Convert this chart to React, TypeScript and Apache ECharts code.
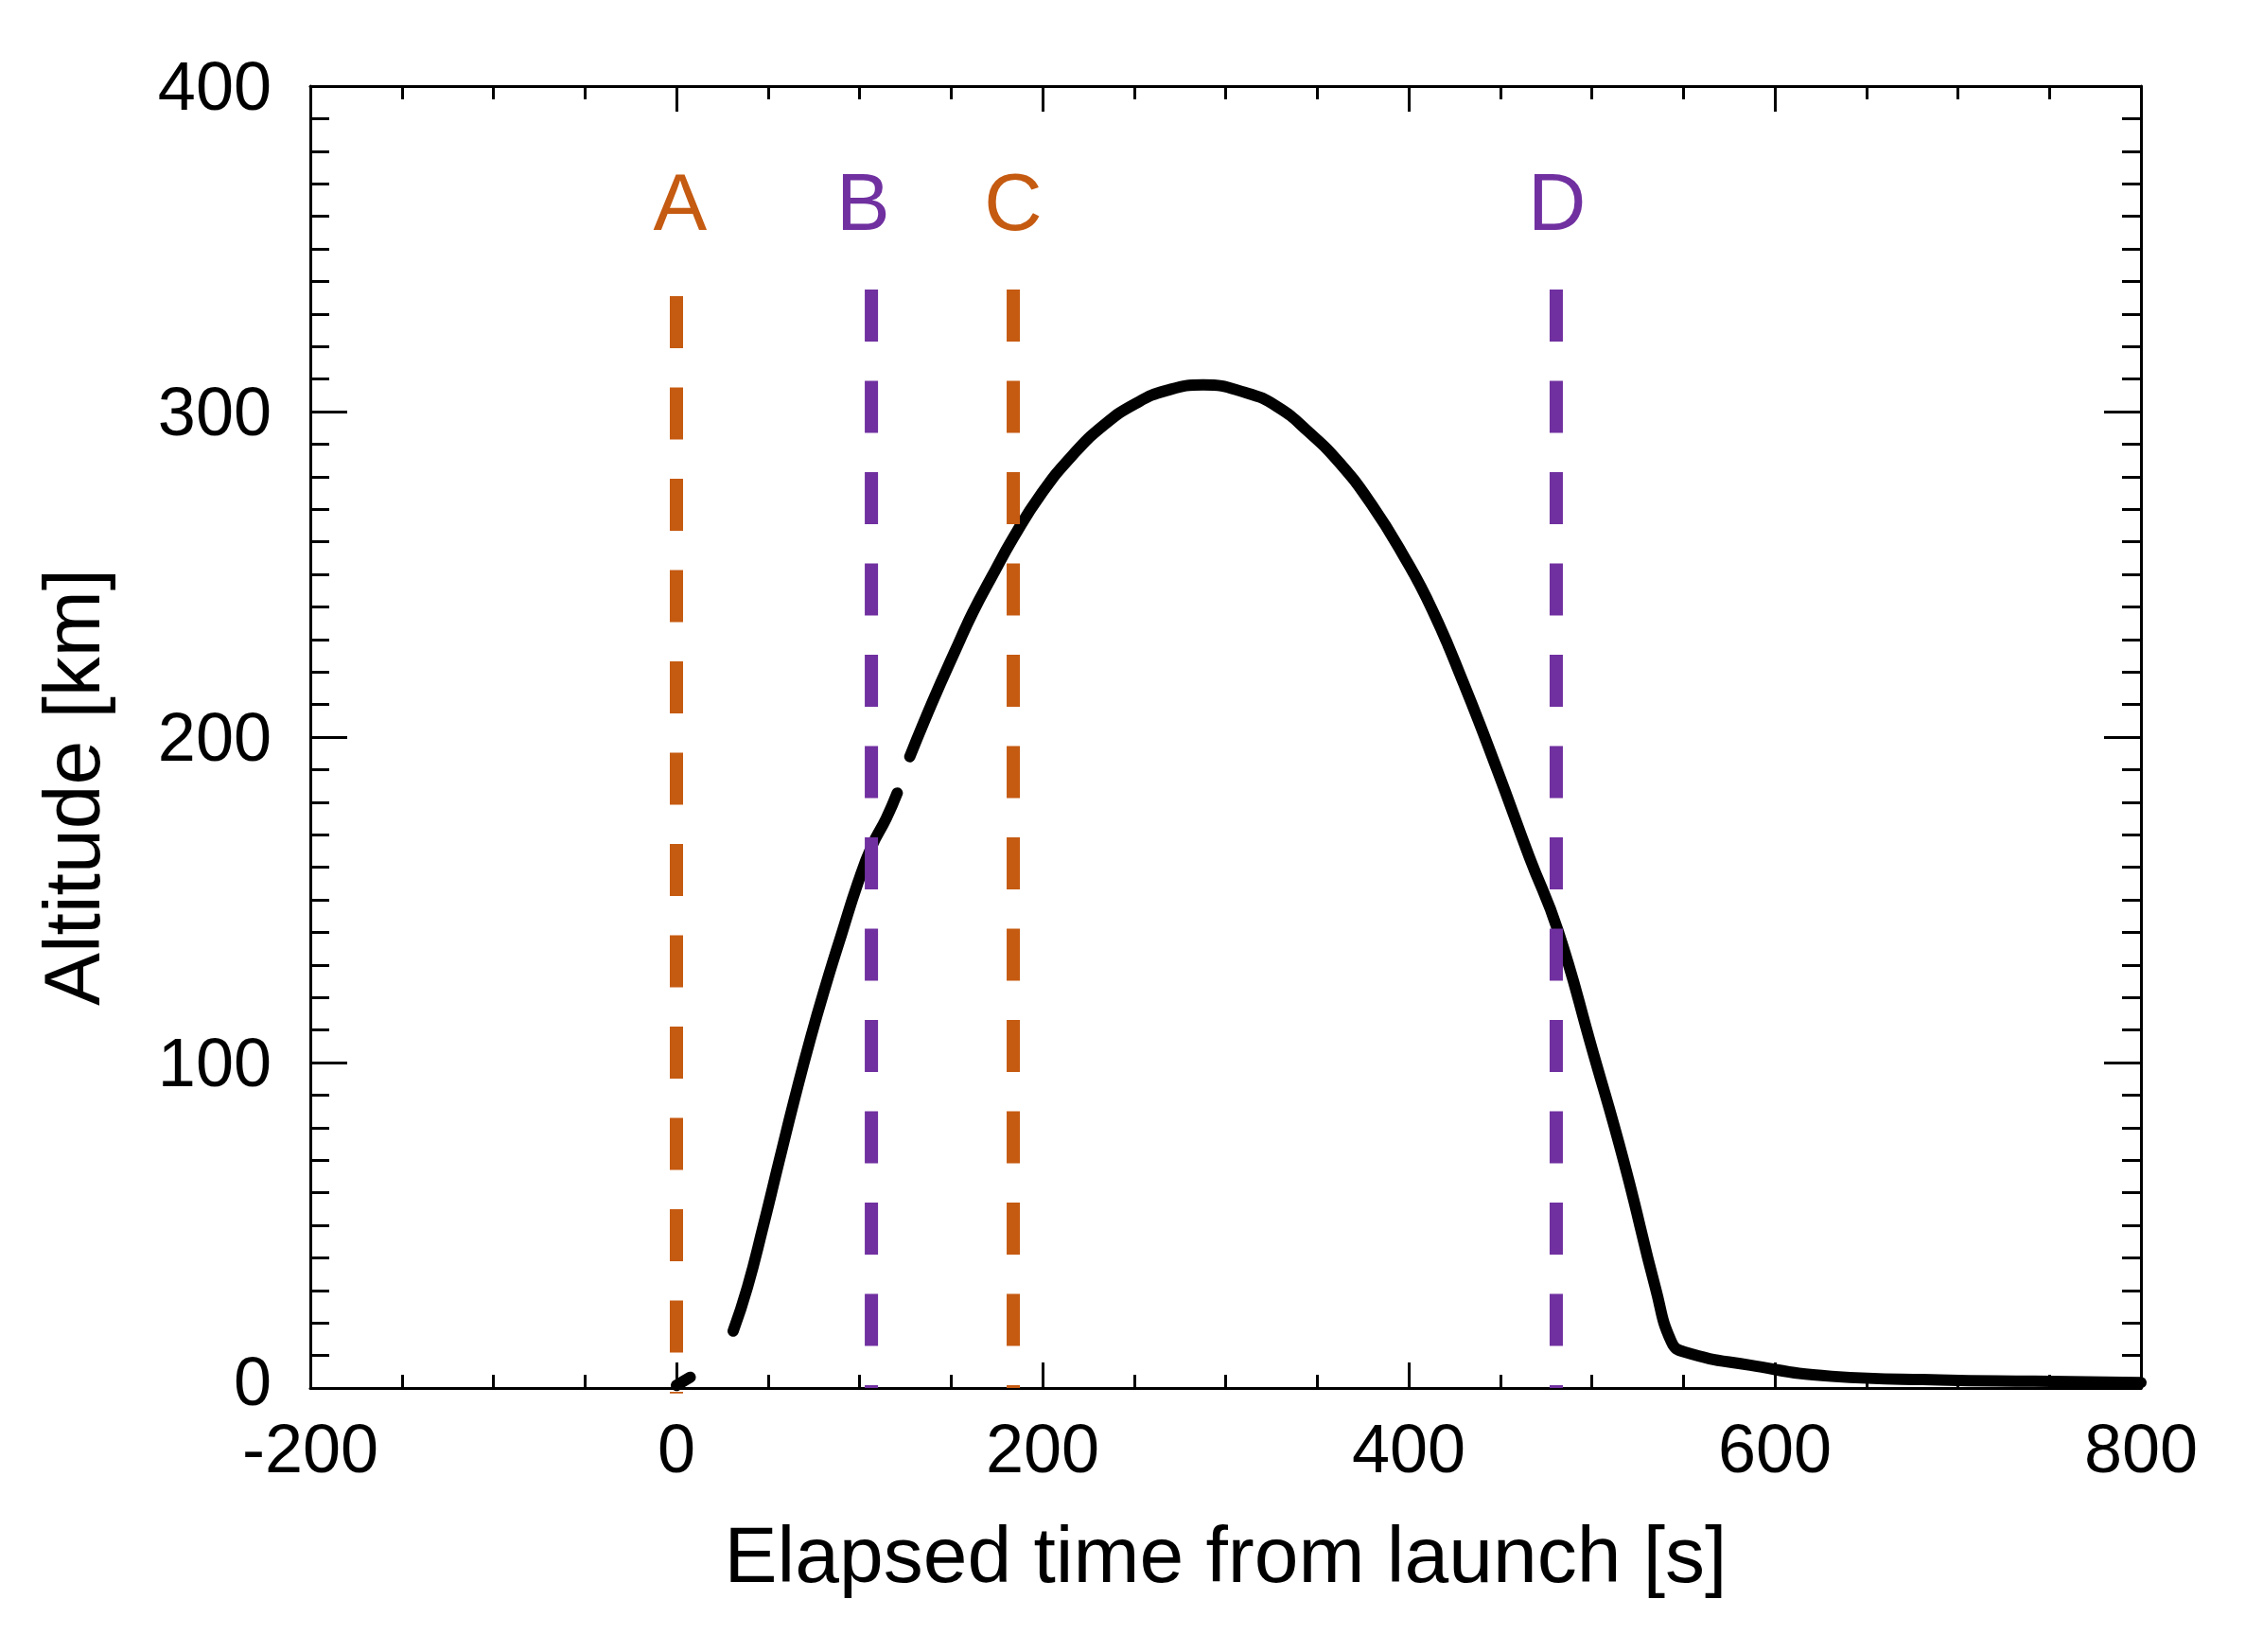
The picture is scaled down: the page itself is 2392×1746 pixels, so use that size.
import React, { useEffect, useRef } from "react";
import * as echarts from "echarts";

// ---- data ----
const launchT = [0, 3, 7.5];
const launchAlt = [0.8, 1.8, 3.3];

const ascentT = [31, 38.8, 47.4, 56, 64.6, 73.2, 81.7, 90.4, 99, 106.8, 114.6, 120.6];
const ascentAlt = [17.5, 31, 49.7, 69.5, 89, 107.4, 124, 139.8, 155, 166.6, 175, 182.8];

const flightT = [127.5, 140, 152.5, 161.9, 172, 184.3, 199, 216.2, 233.4, 250.6, 267.9, 287.7, 311, 328.2, 345.4, 362.6, 379.8, 397, 412.6, 430, 448.6, 466, 481.5, 500.3, 517.7, 534.9, 543.5, 550.4, 586.6, 631, 690, 741.6, 800];
const flightAlt = [194, 211, 226.8, 238.3, 249, 261.5, 274.5, 286.5, 295.8, 302.4, 306.5, 308.2, 305.8, 301.5, 293.7, 284, 271.4, 255.9, 239.4, 216.5, 189.5, 163, 140.6, 103.9, 69.2, 30.5, 14.2, 11.1, 7.0, 3.6, 2.5, 2.1, 1.7];

const eventNames = ["A", "B", "C", "D"];
const eventLineT = [0, 106.5, 184, 480.6];
const eventLineTop = [335.5, 337.5, 337.5, 337.5];
const eventLineBottom = [-1.7, 0, 0, 0];
const eventLabelT = [2, 102, 184, 481];
const eventLabelAlt = [352, 352, 352, 352];
const eventColors = ["#C55A11", "#7030A0", "#C55A11", "#7030A0"];

const xMin = -200, xMax = 800, xInterval = 200;
const yMin = 0, yMax = 400, yInterval = 100;

const xTitle = "Elapsed time from launch [s]";
const yTitle = "Altitude [km]";

const FONT = "'Liberation Sans', Arial, Helvetica, sans-serif";

function pairs(t: number[], a: number[]) {
  return t.map((v, i) => [v, a[i]]);
}

export default function App() {
  const ref = useRef<HTMLDivElement>(null);
  useEffect(() => {
    document.body.style.margin = "0";
    if (!ref.current) return;
    const chart = echarts.init(ref.current, undefined, { renderer: "svg" });

    const curveData: any[] = [
      ...pairs(launchT, launchAlt),
      [null, null],
      ...pairs(ascentT, ascentAlt),
      [null, null],
      ...pairs(flightT, flightAlt),
    ];

    const axisLine = { show: true, onZero: false, lineStyle: { color: "#000", width: 3 } };
    const xCommon = {
      type: "value",
      min: xMin,
      max: xMax,
      interval: xInterval,
      axisLine,
      axisTick: { show: true, inside: true, length: 27, lineStyle: { color: "#000", width: 3 } },
      minorTick: { show: true, splitNumber: 4, length: 14, lineStyle: { color: "#000", width: 3 } },
      splitLine: { show: false },
      minorSplitLine: { show: false },
    };
    const yCommon = {
      type: "value",
      min: yMin,
      max: yMax,
      interval: yInterval,
      axisLine,
      axisTick: { show: true, inside: true, length: 39, lineStyle: { color: "#000", width: 3 } },
      minorTick: { show: true, splitNumber: 10, length: 20, lineStyle: { color: "#000", width: 3 } },
      splitLine: { show: false },
      minorSplitLine: { show: false },
    };

    const eventLineSeries = eventNames.map((n, i) => ({
      type: "line",
      name: "event" + n,
      data: [
        [eventLineT[i], eventLineTop[i]],
        [eventLineT[i], eventLineBottom[i]],
      ],
      showSymbol: false,
      symbol: "none",
      clip: false,
      silent: true,
      z: 3,
      lineStyle: { color: eventColors[i], width: 14, type: [55, 41.5], cap: "butt" },
    }));

    const option: any = {
      animation: false,
      backgroundColor: "#fff",
      grid: { left: 328, right: 129, top: 91, bottom: 279, containLabel: false },
      xAxis: [
        {
          ...xCommon,
          position: "bottom",
          axisLabel: { show: true, margin: 34, fontSize: 72, lineHeight: 60, color: "#000", fontFamily: FONT },
          name: xTitle,
          nameLocation: "middle",
          nameGap: 134,
          nameTextStyle: { fontSize: 84, color: "#000", fontFamily: FONT },
        },
        { ...xCommon, position: "top", axisLabel: { show: false } },
      ],
      yAxis: [
        {
          ...yCommon,
          position: "left",
          axisLabel: {
            show: true,
            margin: 41,
            fontSize: 72,
            lineHeight: 48,
            color: "#000",
            fontFamily: FONT,
            formatter: (v: number) => (v === 0 ? "{z|0}" : String(v)),
            rich: { z: { fontSize: 72, lineHeight: 48, color: "#000", fontFamily: FONT, padding: [0, 0, 14, 0] } },
          },
        },
        { ...yCommon, position: "right", axisLabel: { show: false } },
      ],
      graphic: [
        {
          type: "text",
          x: 76,
          y: 832,
          rotation: Math.PI / 2,
          style: {
            text: yTitle,
            fontSize: 84,
            fontFamily: FONT,
            fill: "#000",
            align: "center",
            verticalAlign: "middle",
          },
        },
      ],
      series: [
        {
          type: "line",
          name: "altitude",
          data: curveData,
          showSymbol: false,
          symbol: "none",
          connectNulls: false,
          smooth: 0.5,
          clip: false,
          z: 2,
          lineStyle: { color: "#000", width: 12, cap: "round", join: "round" },
        },
        ...eventLineSeries,
        {
          type: "scatter",
          name: "labels",
          symbolSize: 1,
          itemStyle: { color: "#fff", opacity: 0 },
          silent: true,
          z: 4,
          data: eventNames.map((n, i) => ({
            value: [eventLabelT[i], eventLabelAlt[i]],
            label: {
              show: true,
              position: "top",
              distance: 0,
              formatter: n,
              color: eventColors[i],
              opacity: 1,
              textBorderWidth: 0,
              fontSize: 85,
              fontFamily: FONT,
            },
          })),
        },
      ],
    };
    chart.setOption(option);
    return () => chart.dispose();
  }, []);
  return <div ref={ref} style={{ width: 2392, height: 1746 }} />;
}
